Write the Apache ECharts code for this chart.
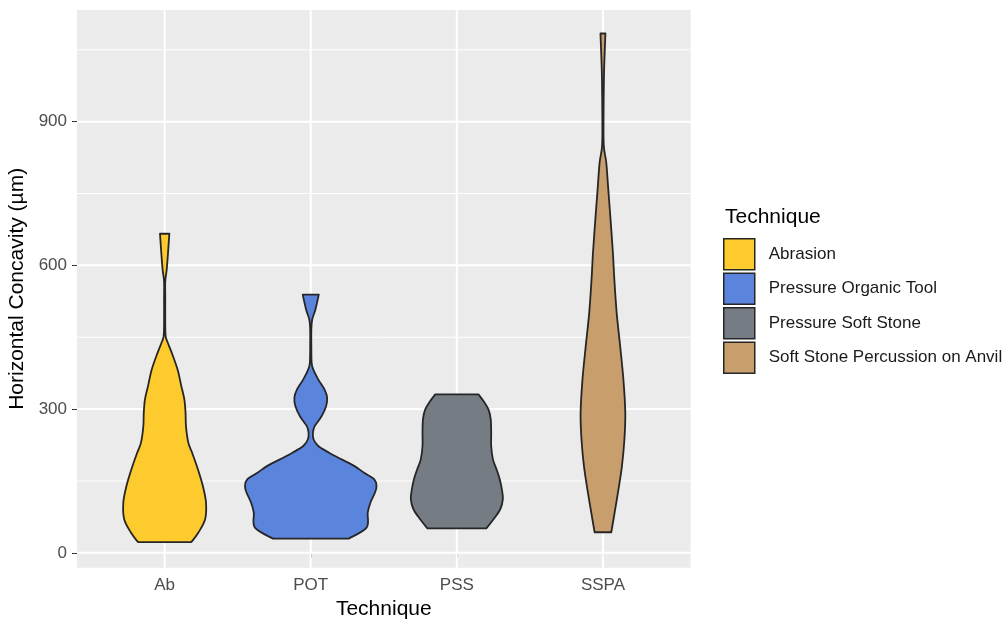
<!DOCTYPE html>
<html>
<head>
<meta charset="utf-8">
<script src="https://cdn.jsdelivr.net/npm/echarts@6/dist/echarts.min.js"></script>
<style>
  html, body { margin: 0; padding: 0; background: #ffffff; }
  #chart { width: 1005px; height: 621px; }
</style>
</head>
<body>
<div id="chart"></div>
<script>
const categories = ['Ab', 'POT', 'PSS', 'SSPA'];
const techniques = ['Abrasion', 'Pressure Organic Tool', 'Pressure Soft Stone', 'Soft Stone Percussion on Anvil'];
const yTicks = [0, 300, 600, 900];
const yMinorTicks = [150, 450, 750, 1050];
const xTicks = [1, 2, 3, 4];

// Violin outlines: [horizontal concavity (µm), scaled density half-width in category units]
const abDensity = [
  [22.5, 0.183], [42, 0.23], [70, 0.277], [105, 0.283], [139, 0.262], [174, 0.228],
  [209, 0.188], [230, 0.162], [264, 0.146], [292, 0.143], [320, 0.135], [348, 0.114],
  [383, 0.088], [418, 0.048], [438, 0.022], [452, 0.007], [480, 0.004], [530, 0.004],
  [566, 0.004], [591, 0.014], [626, 0.023], [666, 0.032]
];
const potDensity = [
  [29.6, 0.259], [52.6, 0.382], [84, 0.39], [105, 0.409], [126, 0.44], [139, 0.45],
  [153, 0.436], [167, 0.365], [181, 0.3], [195, 0.211], [209, 0.125], [223, 0.051],
  [237, 0.019], [251, 0.015], [264.5, 0.027], [285, 0.074], [306, 0.105], [324, 0.112],
  [341, 0.094], [362, 0.051], [383, 0.017], [397, 0.006], [431, 0.004], [466, 0.004],
  [487, 0.01], [508, 0.032], [539, 0.055]
];
const pssDensity = [
  [51, 0.202], [70, 0.251], [91, 0.297], [112, 0.315], [132.5, 0.308], [153, 0.294],
  [174, 0.272], [195, 0.247], [223, 0.235], [251, 0.235], [278.5, 0.232], [299, 0.217],
  [317, 0.182], [330.7, 0.148]
];
const sspaDensity = [
  [43, 0.057], [84, 0.08], [126, 0.103], [181, 0.13], [237, 0.147], [292, 0.153],
  [362, 0.14], [431, 0.118], [501, 0.094], [571, 0.078], [627, 0.068], [696, 0.052],
  [765, 0.035], [814, 0.023], [849, 0.006], [904, 0.004], [995, 0.007], [1044, 0.012],
  [1084, 0.017]
];

const profiles = [abDensity, potDensity, pssDensity, sspaDensity];
const fills = ['#FDCB2D', '#5B84DC', '#767C83', '#C89E6D'];
const outline = '#262626';
const fontFamily = '"Liberation Sans", Arial, Helvetica, sans-serif';
const xMin = 0.4, xMax = 4.6, yMin = -31, yMax = 1133;

// Smooth curve through a list of pixel points (Catmull-Rom as cubic Béziers)
function curveThrough(pts) {
  let s = '';
  for (let i = 0; i < pts.length - 1; i++) {
    const p0 = pts[Math.max(i - 1, 0)];
    const p1 = pts[i];
    const p2 = pts[i + 1];
    const p3 = pts[Math.min(i + 2, pts.length - 1)];
    const c1x = p1[0] + (p2[0] - p0[0]) / 6, c1y = p1[1] + (p2[1] - p0[1]) / 6;
    const c2x = p2[0] - (p3[0] - p1[0]) / 6, c2y = p2[1] - (p3[1] - p1[1]) / 6;
    s += ' C' + c1x + ',' + c1y + ' ' + c2x + ',' + c2y + ' ' + p2[0] + ',' + p2[1];
  }
  return s;
}

function violinSeries(idx) {
  const profile = profiles[idx];
  const center = idx + 1;
  return {
    type: 'custom',
    name: techniques[idx],
    coordinateSystem: 'cartesian2d',
    z: 3,
    silent: true,
    itemStyle: { color: fills[idx], borderColor: outline, borderWidth: 1.5 },
    data: [[center, profile[0][0]]],
    renderItem: function (params, api) {
      const right = profile.map(p => api.coord([center + p[1], p[0]]));
      const left = profile.map(p => api.coord([center - p[1], p[0]])).reverse();
      let d = 'M' + left[left.length - 1][0] + ',' + left[left.length - 1][1];
      d += ' L' + right[0][0] + ',' + right[0][1];
      d += curveThrough(right);
      d += ' L' + left[0][0] + ',' + left[0][1];
      d += curveThrough(left);
      d += ' Z';
      return {
        type: 'path',
        shape: { pathData: d },
        style: { fill: fills[idx], stroke: outline, lineWidth: 1.8, lineJoin: 'round' }
      };
    }
  };
}

// Panel grid lines (white, ggplot-style)
const gridLineSeries = {
  type: 'custom',
  coordinateSystem: 'cartesian2d',
  silent: true,
  z: 1,
  data: [[1, 0]],
  renderItem: function (params, api) {
    const children = [];
    yMinorTicks.forEach(v => {
      const a = api.coord([xMin, v]), b = api.coord([xMax, v]);
      children.push({ type: 'line', shape: { x1: a[0], y1: a[1], x2: b[0], y2: b[1] },
        style: { stroke: '#ffffff', lineWidth: 1 } });
    });
    yTicks.forEach(v => {
      const a = api.coord([xMin, v]), b = api.coord([xMax, v]);
      children.push({ type: 'line', shape: { x1: a[0], y1: a[1], x2: b[0], y2: b[1] },
        style: { stroke: '#ffffff', lineWidth: 2 } });
    });
    xTicks.forEach(v => {
      const a = api.coord([v, yMin]), b = api.coord([v, yMax]);
      children.push({ type: 'line', shape: { x1: a[0], y1: a[1], x2: b[0], y2: b[1] },
        style: { stroke: '#ffffff', lineWidth: 2 } });
    });
    return { type: 'group', children: children };
  }
};

const chart = echarts.init(document.getElementById('chart'), null, { renderer: 'canvas' });
chart.setOption({
  animation: false,
  backgroundColor: '#ffffff',
  textStyle: { fontFamily: fontFamily },
  title: {
    text: 'Technique',
    left: 725,
    top: 207,
    padding: 0,
    textStyle: { fontSize: 21, fontWeight: 'normal', color: '#000000', fontFamily: fontFamily }
  },
  legend: {
    data: techniques,
    orient: 'vertical',
    left: 723,
    top: 238,
    padding: 0,
    itemWidth: 31,
    itemHeight: 31,
    itemGap: 2,
    icon: 'rect',
    selectedMode: false,
    itemStyle: { borderColor: outline, borderWidth: 1.5 },
    textStyle: { fontSize: 17, color: '#1a1a1a', fontFamily: fontFamily, padding: [0, 0, 0, 9] }
  },
  grid: {
    left: 77,
    right: 314.4,
    top: 10,
    bottom: 53.3,
    show: true,
    backgroundColor: '#EBEBEB',
    borderWidth: 0,
    containLabel: false,
    outerBoundsMode: 'none'
  },
  xAxis: {
    type: 'value',
    min: xMin,
    max: xMax,
    name: 'Technique',
    nameLocation: 'middle',
    nameGap: 29,
    nameTextStyle: { fontSize: 21, color: '#000000', fontFamily: fontFamily },
    axisLine: { show: false },
    axisTick: { show: true, length: 5, customValues: xTicks, lineStyle: { color: '#333333', width: 1 } },
    axisLabel: {
      customValues: xTicks,
      margin: 9,
      fontSize: 17,
      color: '#4D4D4D',
      fontFamily: fontFamily,
      formatter: v => categories[Math.round(v) - 1] || ''
    },
    splitLine: { show: false }
  },
  yAxis: {
    type: 'value',
    min: yMin,
    max: yMax,
    name: 'Horizontal Concavity (µm)',
    nameLocation: 'middle',
    nameRotate: 90,
    nameGap: 44,
    nameTextStyle: { fontSize: 21, color: '#000000', fontFamily: fontFamily },
    axisLine: { show: false },
    axisTick: { show: true, length: 5, customValues: yTicks, lineStyle: { color: '#333333', width: 1 } },
    axisLabel: {
      customValues: yTicks,
      margin: 10,
      fontSize: 17,
      color: '#4D4D4D',
      fontFamily: fontFamily
    },
    splitLine: { show: false },
    minorSplitLine: { show: false }
  },
  series: [gridLineSeries].concat([0, 1, 2, 3].map(violinSeries))
});
</script>
</body>
</html>
